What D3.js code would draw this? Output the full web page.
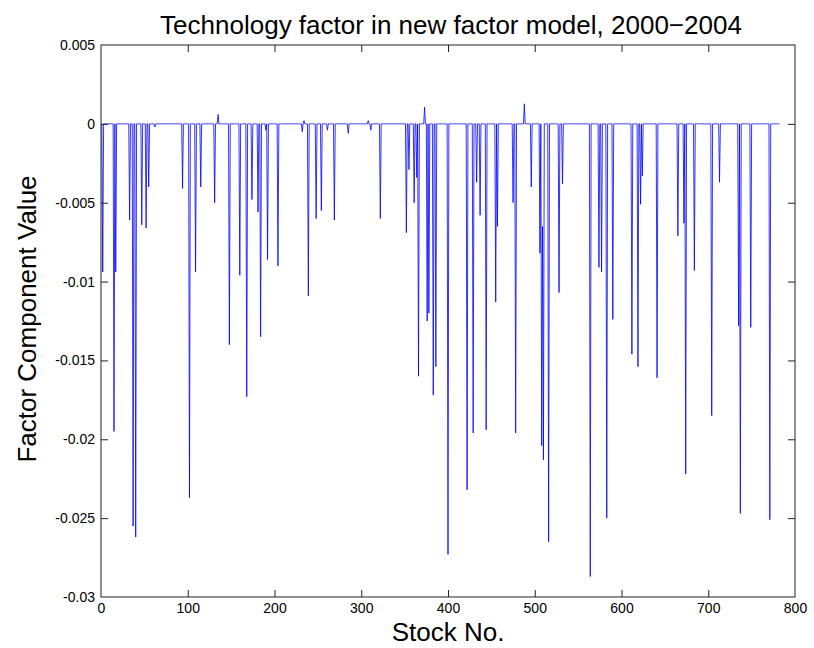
<!DOCTYPE html>
<html><head><meta charset="utf-8">
<script src="https://cdn.jsdelivr.net/npm/d3@7"></script>
<style>
body{margin:0;background:#fff;}
text{font-family:"Liberation Sans",Arial,Helvetica,sans-serif;fill:#000;}
</style></head>
<body><svg id="c" width="814" height="648"></svg>
<script>
// ---- data ----
const stockCount = 782;
// nonzero factor components: stock numbers and values (all other stocks are 0)
const spikeStocks = [2,15,17,33,37,40,47,52,55,62,94,102,109,115,131,135,148,160,168,174,181,184,190,192,204,232,234,239,248,254,261,269,285,308,311,322,352,355,361,364,366,373,376,378,383,386,400,422,429,433,437,444,455,457,475,478,488,496,506,508,509,510,516,528,532,564,574,577,583,590,612,619,622,624,641,665,672,674,684,704,713,735,737,749,771];
const spikeValues = [-0.0094,-0.0195,-0.0094,-0.0061,-0.0255,-0.0262,-0.0064,-0.0066,-0.0040,-0.0002,-0.0041,-0.0237,-0.0094,-0.0040,-0.0050,0.0006,-0.0140,-0.0096,-0.0173,-0.0048,-0.0056,-0.0135,-0.0004,-0.0086,-0.0090,-0.0005,0.0002,-0.0109,-0.0060,-0.0055,-0.0004,-0.0061,-0.0006,0.0002,-0.0004,-0.0060,-0.0069,-0.0029,-0.0050,-0.0034,-0.0160,0.00106,-0.0125,-0.0120,-0.0172,-0.0154,-0.0273,-0.0232,-0.0196,-0.0037,-0.0058,-0.0194,-0.0113,-0.0065,-0.0050,-0.0196,0.00127,-0.0040,-0.0082,-0.0204,-0.0065,-0.0213,-0.0265,-0.0107,-0.0038,-0.0287,-0.0091,-0.0094,-0.0250,-0.0124,-0.0146,-0.0154,-0.0051,-0.0033,-0.0161,-0.0071,-0.0063,-0.0222,-0.0093,-0.0185,-0.0037,-0.0128,-0.0247,-0.0129,-0.0251];
const xTicks = [0,100,200,300,400,500,600,700,800];
const yTicks = [0.005,0,-0.005,-0.01,-0.015,-0.02,-0.025,-0.03];
const yTickLabels = ["0.005","0","-0.005","-0.01","-0.015","-0.02","-0.025","-0.03"];
const titleText = "Technology factor in new factor model, 2000\u22122004";
const xLabel = "Stock No.";
const yLabel = "Factor Component Value";

// ---- build series ----
const valueByStock = new Map(spikeStocks.map((s,i)=>[s,spikeValues[i]]));
const series = d3.range(1, stockCount+1).map(s => ({x:s, y: valueByStock.get(s) ?? 0}));

// ---- layout ----
const L=101, R=795, T=45, B=597;
const svg = d3.select("#c");
const x = d3.scaleLinear().domain([0,800]).range([L,R]);
const y = d3.scaleLinear().domain([-0.03,0.005]).range([B,T]);

// line
svg.append("path").datum(series)
  .attr("fill","none").attr("stroke","#0000ff").attr("stroke-width",0.8)
  .attr("d", d3.line().x(d=>x(d.x)).y(d=>y(d.y)));

const tick=7, axisColor="#222";
// box
svg.append("rect").attr("x",L).attr("y",T).attr("width",R-L).attr("height",B-T)
  .attr("fill","none").attr("stroke",axisColor).attr("stroke-width",1);

// x axis bottom and top
const xb = svg.append("g").attr("transform",`translate(0,${B})`)
  .call(d3.axisBottom(x).tickValues(xTicks).tickSizeInner(-tick).tickSizeOuter(0).tickPadding(6).tickFormat(d3.format("d")));
const xt = svg.append("g").attr("transform",`translate(0,${T})`)
  .call(d3.axisTop(x).tickValues(xTicks).tickSizeInner(-tick).tickSizeOuter(0).tickFormat(""));
const yl = svg.append("g").attr("transform",`translate(${L},0)`)
  .call(d3.axisLeft(y).tickValues(yTicks).tickSizeInner(-tick).tickSizeOuter(0).tickPadding(6)
    .tickFormat((d,i)=>yTickLabels[i]));
const yr = svg.append("g").attr("transform",`translate(${R},0)`)
  .call(d3.axisRight(y).tickValues(yTicks).tickSizeInner(-tick).tickSizeOuter(0).tickFormat(""));
[xb,xt,yl,yr].forEach(g=>{
  g.select(".domain").remove();
  g.selectAll("line").attr("stroke",axisColor);
  g.selectAll("text").style("font-size","14px").attr("fill","#000")
   .style("font-family","'Liberation Sans',Arial,sans-serif");
});
// drop ticks at the corners (box already drawn)
[xb,xt].forEach(g=>g.selectAll(".tick").filter(d=>d===0||d===800).select("line").remove());
[yl,yr].forEach(g=>g.selectAll(".tick").filter(d=>d===0.005||d===-0.03).select("line").remove());

// title and labels
svg.append("text").attr("x",(L+R)/2+3).attr("y",34).attr("text-anchor","middle")
  .style("font-size","26px").text(titleText);
svg.append("text").attr("x",(L+R)/2).attr("y",641).attr("text-anchor","middle")
  .style("font-size","26px").text(xLabel);
svg.append("text").attr("transform",`translate(36,${(T+B)/2-2}) rotate(-90)`).attr("text-anchor","middle")
  .style("font-size","26px").text(yLabel);
</script></body></html>
